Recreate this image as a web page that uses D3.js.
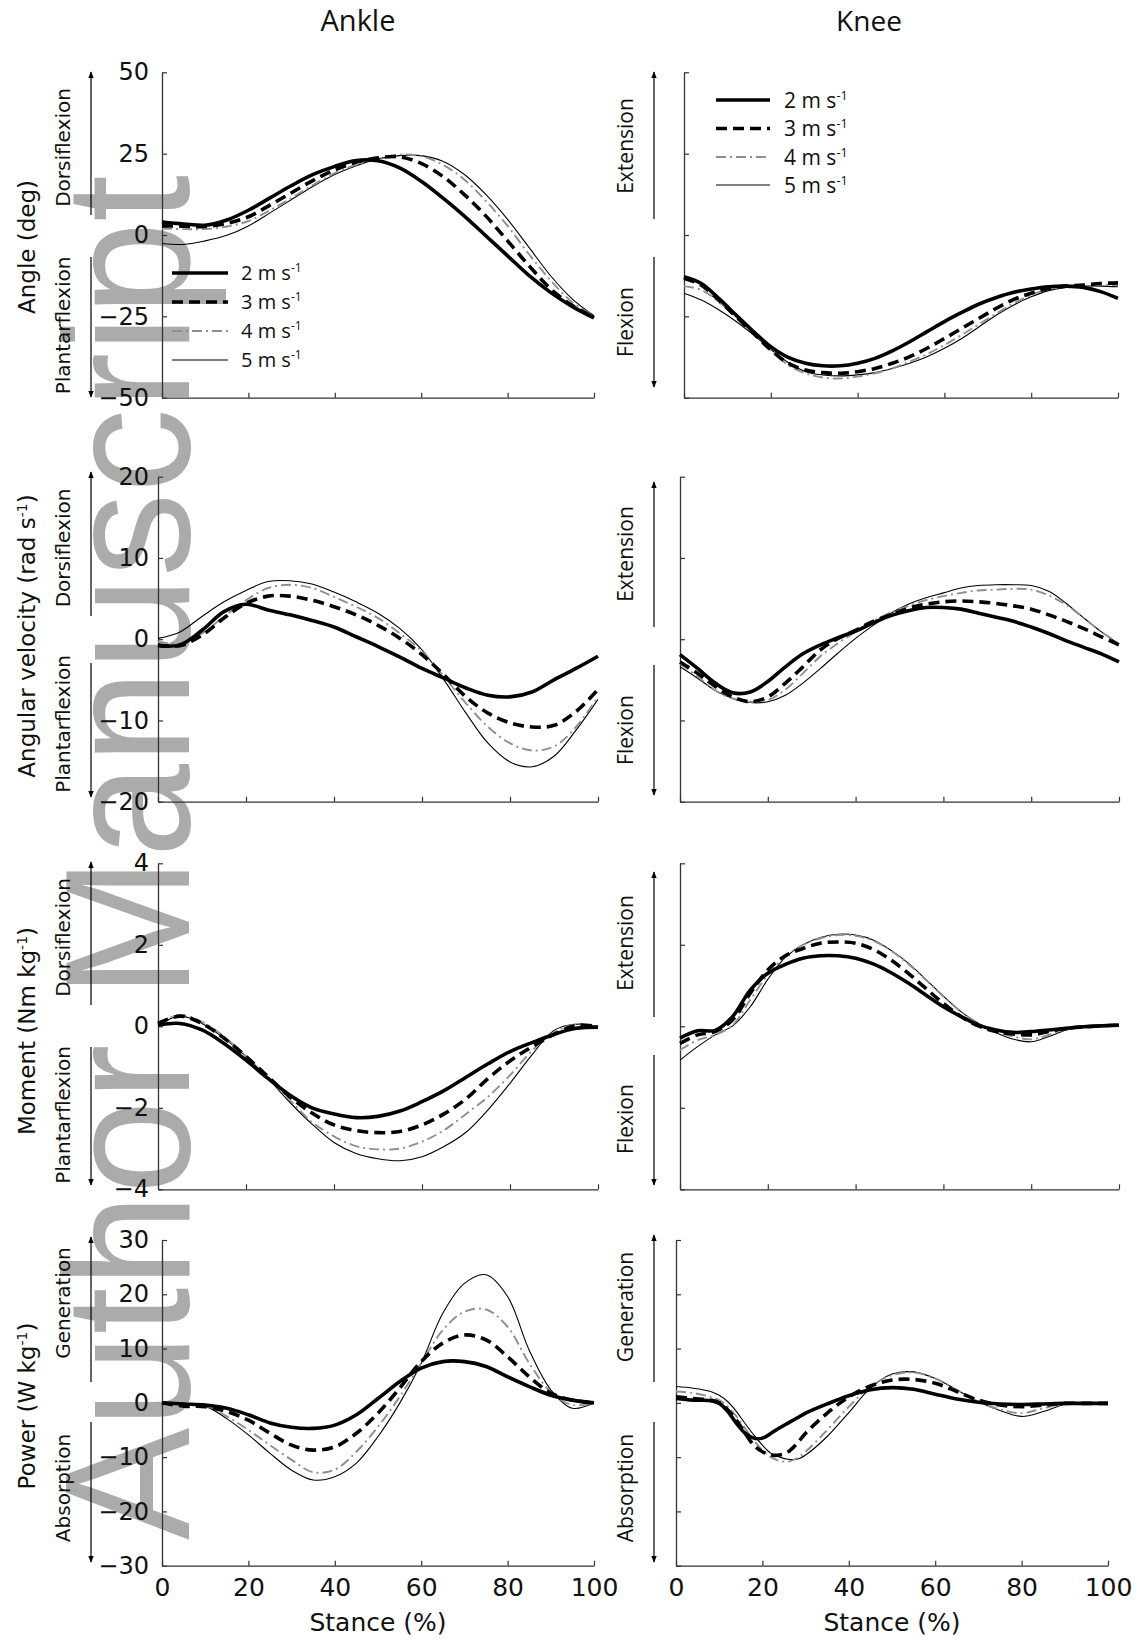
<!DOCTYPE html>
<html>
<head>
<meta charset="utf-8">
<script src="https://cdn.jsdelivr.net/npm/d3@7"></script>
<style>
  body { margin: 0; background: #fff; }
  svg { display: block; }
</style>
</head>
<body>
<svg id="fig" width="1143" height="1642"></svg>
<script>
// ---------------------------------------------------------------
// Stance (% of ground contact) sample points
// ---------------------------------------------------------------
const stance5 = [0,5,10,15,20,25,30,35,40,45,50,55,60,65,70,75,80,85,90,95,100];
const stance4 = [0,4,8,12,16,20,24,28,32,36,40,44,48,52,56,60,64,68,72,76,80,84,88,92,96,100];
const stanceKneePower = [0,4,8,10,12,14,16,18,20,22,24,26,28,30,35,40,45,50,55,60,65,70,75,80,85,90,95,100];

const speedLabels = ["2", "3", "4", "5"];   // running speed, m s-1
const xTicks = [0, 20, 40, 60, 80, 100];

// ---------------------------------------------------------------
// Ankle joint (one array per speed: 2, 3, 4, 5 m s-1)
// ---------------------------------------------------------------
const ankleAngle = [
  [4.0, 3.4, 3.0, 4.6, 7.6, 11.4, 15.2, 18.6, 21.1, 22.9, 22.8, 20.6, 16.5, 11.4, 5.8, -0.3, -6.4, -12.5, -17.7, -22.0, -25.5],
  [2.8, 2.7, 2.6, 3.6, 5.6, 9.2, 13.0, 16.8, 20.0, 22.4, 23.7, 24.0, 22.0, 18.0, 12.4, 5.8, -1.8, -9.5, -16.6, -21.7, -25.3],
  [2.0, 1.8, 1.8, 2.6, 4.3, 7.6, 11.4, 15.4, 19.0, 21.6, 23.4, 24.7, 24.2, 21.6, 17.0, 10.4, 2.8, -6.0, -14.0, -20.7, -24.8],
  [-2.6, -2.9, -1.8, -0.1, 2.8, 6.8, 10.9, 15.0, 18.6, 21.3, 23.4, 24.4, 24.4, 22.7, 18.6, 12.4, 4.8, -3.9, -12.6, -19.7, -24.8]
];
const ankleVelocity = [
  [-0.8, -0.7, 1.1, 3.4, 4.3, 3.6, 3.0, 2.3, 1.5, 0.3, -0.9, -2.2, -3.6, -4.8, -6.0, -6.9, -7.1, -6.5, -5.0, -3.6, -2.1],
  [-0.7, -0.8, 0.5, 2.6, 4.4, 5.3, 5.3, 4.8, 4.0, 3.0, 1.7, 0.1, -1.9, -4.4, -7.1, -9.1, -10.3, -10.8, -10.6, -8.9, -6.2],
  [-0.3, -0.5, 0.7, 2.8, 4.8, 6.3, 6.7, 6.3, 5.2, 4.0, 2.6, 0.7, -1.5, -4.6, -7.9, -10.8, -12.8, -13.7, -13.2, -10.8, -7.1],
  [0.1, 0.9, 2.8, 4.6, 6.0, 7.1, 7.2, 6.8, 5.8, 4.6, 3.2, 1.3, -1.3, -5.0, -9.1, -12.8, -15.1, -15.7, -14.4, -11.2, -7.4]
];
const ankleMoment = [
  [0.03, 0.07, -0.09, -0.42, -0.83, -1.28, -1.69, -2.0, -2.15, -2.24, -2.21, -2.08, -1.85, -1.58, -1.25, -0.92, -0.62, -0.4, -0.2, -0.05, -0.02],
  [0.07, 0.25, 0.07, -0.29, -0.74, -1.24, -1.73, -2.13, -2.42, -2.56, -2.61, -2.58, -2.42, -2.15, -1.78, -1.28, -0.85, -0.5, -0.2, 0.02, -0.01],
  [0.07, 0.28, 0.11, -0.25, -0.74, -1.25, -1.81, -2.35, -2.7, -2.94, -3.02, -3.0, -2.83, -2.55, -2.15, -1.73, -1.2, -0.6, -0.15, 0.05, -0.01],
  [0.03, 0.25, 0.07, -0.29, -0.74, -1.28, -1.87, -2.4, -2.85, -3.12, -3.25, -3.3, -3.2, -2.95, -2.6, -2.05, -1.4, -0.7, -0.1, 0.05, -0.01]
];
const anklePower = [
  [0, -0.2, -0.4, -1.0, -2.2, -3.7, -4.5, -4.7, -4.1, -2.2, 0.8, 3.9, 6.4, 7.6, 7.6, 6.7, 4.8, 3.0, 1.4, 0.5, 0],
  [0, -0.6, -0.7, -1.6, -3.2, -5.6, -7.8, -8.7, -8.1, -5.6, -1.9, 2.7, 7.6, 11.0, 12.5, 11.6, 8.5, 4.8, 1.8, 0.5, 0],
  [0, -0.2, -0.5, -2.5, -5.0, -7.8, -10.5, -12.8, -12.3, -9.0, -4.4, 1.1, 7.3, 13.4, 16.8, 17.2, 14.0, 7.3, 2.0, -0.4, 0],
  [0, -0.1, -0.6, -2.9, -5.9, -9.3, -12.4, -14.2, -13.6, -11.1, -6.2, -0.1, 7.3, 16.5, 22.0, 23.6, 19.6, 9.7, 2.4, -1.0, 0]
];

// ---------------------------------------------------------------
// Knee joint (one array per speed: 2, 3, 4, 5 m s-1)
// ---------------------------------------------------------------
const kneeAngle = [
  [-12.8, -14.9, -19.5, -24.6, -29.7, -34.3, -37.6, -39.4, -40.2, -40.2, -39.4, -37.9, -35.6, -32.8, -29.7, -26.6, -23.8, -21.2, -19.2, -17.6, -16.6, -15.9, -15.7, -16.1, -17.4, -19.5],
  [-13.3, -15.4, -20.0, -25.1, -30.2, -35.3, -39.4, -41.5, -42.3, -42.5, -42.0, -41.0, -39.4, -37.4, -34.8, -31.8, -28.7, -25.6, -22.5, -19.8, -17.9, -16.4, -15.7, -15.4, -14.9, -14.7],
  [-15.7, -16.9, -20.5, -25.1, -30.2, -35.3, -40.0, -42.5, -43.8, -44.1, -43.5, -42.5, -41.0, -38.9, -36.6, -33.8, -30.7, -27.4, -24.1, -21.0, -18.4, -16.7, -15.9, -15.7, -15.4, -15.4],
  [-17.9, -20.0, -23.0, -26.6, -30.7, -35.1, -39.2, -42.0, -43.0, -43.3, -43.0, -42.3, -41.0, -39.4, -37.4, -34.8, -31.8, -28.2, -24.6, -21.5, -19.0, -17.1, -16.1, -15.7, -15.7, -15.9]
];
const kneeVelocity = [
  [-1.9, -3.6, -5.4, -6.6, -6.5, -5.2, -3.4, -1.8, -0.7, 0.2, 1.0, 2.0, 2.9, 3.5, 3.9, 3.9, 3.7, 3.2, 2.7, 2.2, 1.5, 0.7, -0.2, -1.0, -1.8, -2.8],
  [-2.8, -4.2, -5.8, -7.1, -7.7, -7.1, -5.4, -3.4, -1.3, 0.1, 1.1, 2.2, 3.0, 3.8, 4.3, 4.6, 4.7, 4.6, 4.4, 4.1, 3.7, 3.0, 2.2, 1.3, 0.3, -0.7],
  [-3.0, -4.6, -6.3, -7.3, -7.7, -7.5, -6.2, -4.2, -2.1, -0.5, 0.9, 2.2, 3.3, 4.1, 4.8, 5.3, 5.7, 6.0, 6.1, 6.2, 6.1, 5.4, 4.2, 2.6, 0.9, -0.5],
  [-3.4, -4.8, -6.3, -7.3, -7.8, -7.7, -6.9, -5.4, -3.6, -1.7, 0.1, 1.7, 3.2, 4.3, 5.1, 5.7, 6.3, 6.6, 6.7, 6.7, 6.6, 5.9, 4.4, 2.6, 0.9, -0.6]
];
const kneeMoment = [
  [-0.29, -0.11, -0.1, 0.24, 0.89, 1.3, 1.52, 1.67, 1.73, 1.73, 1.67, 1.53, 1.32, 1.06, 0.77, 0.48, 0.24, 0.03, -0.09, -0.15, -0.13, -0.09, -0.05, -0.01, 0.01, 0.03],
  [-0.42, -0.21, -0.13, 0.16, 0.81, 1.38, 1.73, 1.91, 2.04, 2.07, 2.04, 1.89, 1.63, 1.3, 0.93, 0.56, 0.24, 0.01, -0.13, -0.19, -0.21, -0.13, -0.05, -0.01, 0.01, 0.03],
  [-0.58, -0.34, -0.21, 0.03, 0.65, 1.26, 1.71, 2.0, 2.16, 2.24, 2.22, 2.1, 1.86, 1.53, 1.14, 0.73, 0.36, 0.06, -0.13, -0.25, -0.32, -0.21, -0.07, -0.01, 0.01, 0.01],
  [-0.83, -0.5, -0.21, 0.01, 0.48, 1.15, 1.69, 2.0, 2.18, 2.26, 2.24, 2.12, 1.87, 1.55, 1.15, 0.74, 0.36, 0.07, -0.16, -0.32, -0.38, -0.25, -0.09, -0.01, 0.01, 0.01]
];
const kneePower = [
  [0.8, 0.5, 0.4, -0.1, -1.6, -3.8, -5.6, -6.5, -6.5, -5.6, -4.6, -3.7, -2.8, -1.9, -0.2, 1.3, 2.4, 2.8, 2.5, 1.6, 0.7, 0.1, -0.2, -0.3, -0.2, -0.1, -0.1, -0.1],
  [1.1, 0.8, 0.5, 0.0, -1.3, -3.2, -5.6, -7.8, -9.0, -9.6, -9.6, -9.0, -7.5, -5.6, -1.9, 1.1, 3.1, 4.2, 4.3, 3.6, 2.1, 0.5, -0.4, -0.7, -0.4, -0.1, -0.1, -0.1],
  [2.1, 1.8, 1.1, 0.5, -0.7, -2.5, -4.7, -6.9, -8.7, -10.0, -10.7, -10.8, -10.2, -9.0, -5.0, -0.7, 3.0, 5.1, 5.6, 4.5, 2.4, 0.2, -1.2, -1.9, -1.0, -0.1, -0.1, -0.1],
  [3.0, 2.7, 2.1, 1.4, 0.2, -1.6, -3.8, -5.9, -7.8, -9.3, -10.0, -10.4, -10.4, -9.6, -6.2, -1.8, 2.7, 5.3, 5.7, 4.5, 2.4, 0.2, -1.4, -2.5, -1.6, -0.3, -0.1, -0.1]
];

// Y-axis tick values per row
const angleTicks = [-50, -25, 0, 25, 50];
const velocityTicks = [-20, -10, 0, 10, 20];
const momentTicks = [-4, -2, 0, 2, 4];
const powerTicks = [-30, -20, -10, 0, 10, 20, 30];

// ---------------------------------------------------------------
// Layout
// ---------------------------------------------------------------
const FONT_TICK = "'DejaVu Sans', Verdana, sans-serif";
const FONT_HUMAN = "'Open Sans', 'Noto Sans', sans-serif";

const rows = [
  { top: 72.3, bottom: 397.7, ticks: angleTicks,
    ankle: { x0: 162, x1: 594, series: ankleAngle, stance: stance5 },
    knee:  { x0: 684, x1: 1118, series: kneeAngle, stance: stance4 },
    title: [["Angle (deg)", false]], titleY: 247,
    ankleArrow: [72, 215, 257, 397], kneeArrow: [72, 219, 257, 387],
    ankleLabels: ["Dorsiflexion", 147.5, "Plantarflexion", 325.5],
    kneeLabels: ["Extension", 146, "Flexion", 322] },
  { top: 476.7, bottom: 801.7, ticks: velocityTicks,
    ankle: { x0: 158, x1: 598, series: ankleVelocity, stance: stance5 },
    knee:  { x0: 680, x1: 1119, series: kneeVelocity, stance: stance4 },
    title: [["Angular velocity (rad s", false], ["-1", true], [")", false]], titleY: 636,
    ankleArrow: [472, 616, 663, 797], kneeArrow: [482, 627, 665, 795],
    ankleLabels: ["Dorsiflexion", 548, "Plantarflexion", 724],
    kneeLabels: ["Extension", 554, "Flexion", 730] },
  { top: 863.3, bottom: 1189.3, ticks: momentTicks,
    ankle: { x0: 158, x1: 598, series: ankleMoment, stance: stance5 },
    knee:  { x0: 680, x1: 1119, series: kneeMoment, stance: stance4 },
    title: [["Moment (Nm kg", false], ["-1", true], [")", false]], titleY: 1031,
    ankleArrow: [862, 1005, 1047, 1185], kneeArrow: [872, 1017, 1055, 1185],
    ankleLabels: ["Dorsiflexion", 937.5, "Plantarflexion", 1115],
    kneeLabels: ["Extension", 943, "Flexion", 1119] },
  { top: 1240, bottom: 1565.7, ticks: powerTicks,
    ankle: { x0: 162, x1: 594, series: anklePower, stance: stance5 },
    knee:  { x0: 676, x1: 1108, series: kneePower, stance: stanceKneePower },
    title: [["Power (W kg", false], ["-1", true], [")", false]], titleY: 1406,
    ankleArrow: [1237, 1382, 1422, 1562], kneeArrow: [1235, 1382, 1422, 1562],
    ankleLabels: ["Generation", 1303, "Absorption", 1488],
    kneeLabels: ["Generation", 1307, "Absorption", 1488] }
];

// Line styles for the four speeds
const styles = [
  { stroke: "#000", width: 3.6, dash: null },
  { stroke: "#000", width: 3.6, dash: "11,6" },
  { stroke: "#8f8f8f", width: 1.9, dash: "10,4,2,4" },
  { stroke: "#000", width: 1.1, dash: null }
];

const svg = d3.select("#fig");

// Background watermark
svg.append("text")
  .attr("transform", "translate(189,1540) rotate(-90)")
  .attr("font-family", "'Liberation Sans', Arial, sans-serif")
  .attr("font-size", 178)
  .attr("fill", "#ababab")
  .attr("textLength", 1365)
  .attr("lengthAdjust", "spacingAndGlyphs")
  .text("Author Manuscript");

// Arrow head marker
const defs = svg.append("defs");
defs.append("marker")
  .attr("id", "head")
  .attr("viewBox", "0 0 10 10")
  .attr("refX", 9).attr("refY", 5)
  .attr("markerWidth", 7).attr("markerHeight", 7)
  .attr("markerUnits", "userSpaceOnUse")
  .attr("orient", "auto")
  .append("path")
  .attr("d", "M0,1 L10,5 L0,9 Z")
  .attr("fill", "#000");

// Column headings
svg.append("text").attr("x", 358).attr("y", 31)
  .attr("text-anchor", "middle").attr("font-family", FONT_HUMAN)
  .attr("font-size", 29).attr("fill", "#111").text("Ankle");
svg.append("text").attr("x", 869).attr("y", 31)
  .attr("text-anchor", "middle").attr("font-family", FONT_HUMAN)
  .attr("font-size", 28).attr("fill", "#111").text("Knee");

function addParts(textSel, parts, supSize) {
  parts.forEach(([s, sup]) => {
    const t = textSel.append("tspan").text(s);
    if (sup) t.attr("baseline-shift", "super").attr("font-size", supSize);
  });
}

function drawArrow(x, ends) {
  const [a, b, c, d] = ends;
  svg.append("line").attr("x1", x).attr("x2", x).attr("y1", b).attr("y2", a)
    .attr("stroke", "#000").attr("stroke-width", 1.2).attr("marker-end", "url(#head)");
  svg.append("line").attr("x1", x).attr("x2", x).attr("y1", c).attr("y2", d)
    .attr("stroke", "#000").attr("stroke-width", 1.2).attr("marker-end", "url(#head)");
}

function rotatedLabel(x, y, str, font, size) {
  svg.append("text")
    .attr("transform", `translate(${x},${y}) rotate(-90)`)
    .attr("text-anchor", "middle").attr("dy", "0.35em")
    .attr("font-family", font).attr("font-size", size).attr("fill", "#111")
    .text(str);
}

function drawPanel(spec, row, rowIndex, isAnkle) {
  const x = d3.scaleLinear().domain([0, 100]).range([spec.x0, spec.x1]);
  const y = d3.scaleLinear().domain([row.ticks[0], row.ticks[row.ticks.length - 1]])
    .range([row.bottom, row.top]);
  const g = svg.append("g");

  // axes with inward ticks
  const yAxis = d3.axisLeft(y).tickValues(row.ticks)
    .tickSizeInner(-5).tickSizeOuter(0).tickPadding(spec.x0 - 149);
  if (!isAnkle) yAxis.tickFormat(() => "");
  const gy = g.append("g").attr("transform", `translate(${spec.x0},0)`).call(yAxis);
  gy.selectAll("text").attr("font-family", FONT_TICK).attr("font-size", 24).attr("fill", "#111");

  const xAxis = d3.axisBottom(x).tickValues(xTicks)
    .tickSizeInner(-5).tickSizeOuter(0).tickPadding(13);
  if (rowIndex < 3) xAxis.tickFormat(() => "");
  const gx = g.append("g").attr("transform", `translate(0,${row.bottom})`).call(xAxis);
  gx.selectAll("text").attr("font-family", FONT_TICK).attr("font-size", 25).attr("fill", "#111");

  [gx, gy].forEach(a => {
    a.selectAll(".domain").attr("stroke", "#333").attr("stroke-width", 1.3);
    a.selectAll(".tick line").attr("stroke", "#333").attr("stroke-width", 1.2);
  });

  // curves (fastest first so the thick lines sit on top)
  const line = d3.line()
    .x(d => x(d[0])).y(d => y(d[1]))
    .curve(d3.curveCatmullRom.alpha(0.5));
  for (let i = 3; i >= 0; i--) {
    const pts = spec.stance.map((s, k) => [s, spec.series[i][k]]);
    const st = styles[i];
    g.append("path").datum(pts)
      .attr("d", line)
      .attr("fill", "none")
      .attr("stroke", st.stroke)
      .attr("stroke-width", st.width)
      .attr("stroke-dasharray", st.dash)
      .attr("stroke-linejoin", "round");
  }

  if (rowIndex === 3) {
    svg.append("text").attr("x", (spec.x0 + spec.x1) / 2).attr("y", 1631)
      .attr("text-anchor", "middle").attr("font-family", FONT_TICK)
      .attr("font-size", 25).attr("fill", "#111").text("Stance (%)");
  }
}

rows.forEach((row, ri) => {
  drawPanel(row.ankle, row, ri, true);
  drawPanel(row.knee, row, ri, false);

  // row title (ankle side)
  const t = svg.append("text")
    .attr("transform", `translate(27,${row.titleY}) rotate(-90)`)
    .attr("text-anchor", "middle").attr("dy", "0.35em")
    .attr("font-family", FONT_TICK).attr("font-size", 23).attr("fill", "#111");
  addParts(t, row.title, 14);

  // direction arrows and labels
  drawArrow(91, row.ankleArrow);
  drawArrow(654, row.kneeArrow);
  rotatedLabel(63, row.ankleLabels[1], row.ankleLabels[0], FONT_TICK, 20);
  rotatedLabel(63, row.ankleLabels[3], row.ankleLabels[2], FONT_TICK, 20);
  rotatedLabel(626, row.kneeLabels[1], row.kneeLabels[0], FONT_HUMAN, 21);
  rotatedLabel(626, row.kneeLabels[3], row.kneeLabels[2], FONT_HUMAN, 21);
});

// Legends
function legend(x0, x1, tx, ys, size) {
  speedLabels.forEach((s, i) => {
    const st = styles[i];
    svg.append("line").attr("x1", x0).attr("x2", x1).attr("y1", ys[i]).attr("y2", ys[i])
      .attr("stroke", st.stroke).attr("stroke-width", st.width)
      .attr("stroke-dasharray", st.dash);
    const t = svg.append("text").attr("x", tx).attr("y", ys[i] + size * 0.36)
      .attr("font-family", FONT_HUMAN).attr("font-size", size).attr("fill", "#111");
    addParts(t, [[s + " m s", false], ["-1", true]], size * 0.6);
  });
}
legend(172, 228, 241, [273, 302, 331, 360], 20);
legend(716, 770, 784, [100, 128.5, 157, 185], 21);
</script>
</body>
</html>
